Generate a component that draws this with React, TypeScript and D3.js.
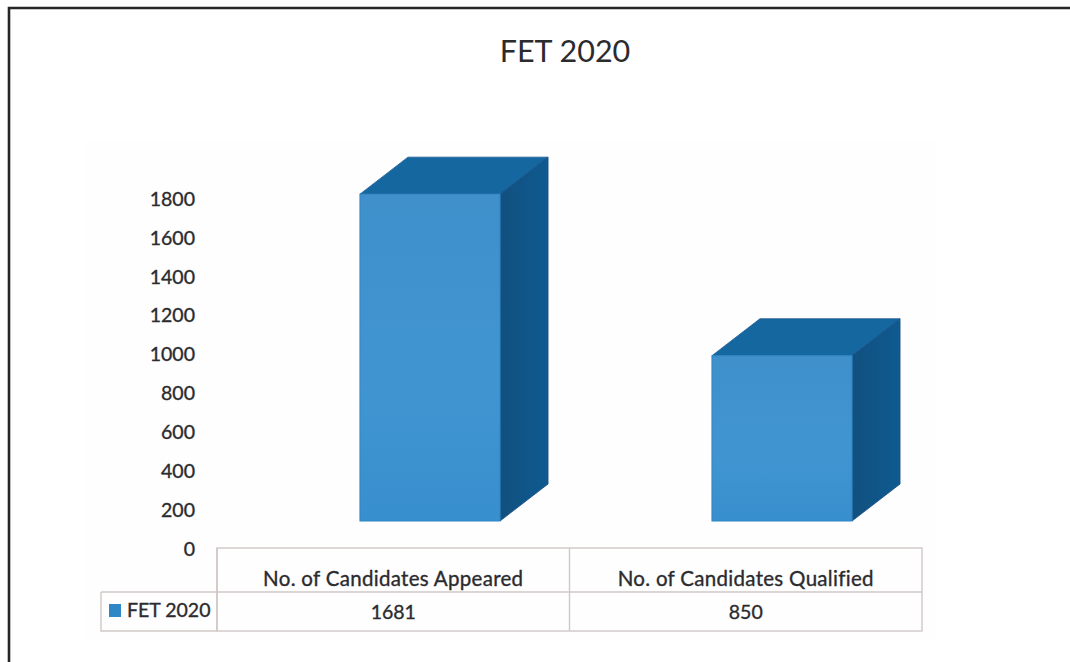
import React from "react";
import * as d3 from "d3";

const categories = ["No. of Candidates Appeared", "No. of Candidates Qualified"];
const values = [1681, 850];
const axisTicks = [0, 200, 400, 600, 800, 1000, 1200, 1400, 1600, 1800];
const seriesName = "FET 2020";
const title = "FET 2020";

const W = 1070;
const H = 662;
const font = "Lato, 'Open Sans', sans-serif";
const ink = "#2b2b2f";

const colScale = d3.scaleBand<string>().domain(categories).range([217, 922]);
const barX = d3.scaleBand<string>().domain(categories).range([254, 958]).paddingInner(0.602).paddingOuter(0.301);
const axisY = d3.scaleLinear().domain([0, 1800]).range([549, 199]);
const barY = d3.scaleLinear().domain([0, 1800]).range([521, 171]);
const DX = 48;
const DY = -37;
const tableTop = 548;
const tableMid = 592;
const tableBottom = 631;
const legendLeft = 101;
const lineColor = "#cfc8c6";
const heft = { stroke: ink, strokeWidth: 0.35 };

export default function App() {
  const poly = d3.line<[number, number]>();
  return (
    <svg width={W} height={H} viewBox={`0 0 ${W} ${H}`} style={{ position: "absolute", left: 0, top: 0, background: "#fff" }}>
      <defs>
        <linearGradient id="front" x1="0" y1="0" x2="0" y2="1">
          <stop offset="0" stopColor="#3f90cb" />
          <stop offset="0.6" stopColor="#4095d1" />
          <stop offset="1" stopColor="#388fcd" />
        </linearGradient>
        <linearGradient id="side" x1="0" y1="0" x2="1" y2="0">
          <stop offset="0" stopColor="#11507f" />
          <stop offset="1" stopColor="#0f5a90" />
        </linearGradient>
      </defs>
      <rect x={85} y={140} width={850} height={500} fill="#fefefe" />
      <path d={`M${W},8H9V${H}`} fill="none" stroke="#262628" strokeWidth={2.6} />
      <text x={565} y={62} textAnchor="middle" fontFamily={font} fontSize={30.5} fill={ink}>{title}</text>

      {axisTicks.map((t) => (
        <text key={t} x={195} y={axisY(t)} dy="0.35em" textAnchor="end" fontFamily={font} fontSize={19.5} fill={ink} {...heft}>{t}</text>
      ))}

      {categories.map((c, i) => {
        const x0 = barX(c) as number;
        const x1 = x0 + barX.bandwidth();
        const yb = barY(0);
        const yt = barY(values[i]);
        const top: [number, number][] = [[x0, yt], [x0 + DX, yt + DY], [x1 + DX, yt + DY], [x1, yt]];
        const side: [number, number][] = [[x1, yt], [x1 + DX, yt + DY], [x1 + DX, yb + DY], [x1, yb]];
        return (
          <g key={c}>
            <path d={poly(top) + "Z"} fill="#14689f" stroke="#1f5a94" strokeWidth={0.8} />
            <path d={poly(side) + "Z"} fill="url(#side)" stroke="#1b4f88" strokeWidth={0.8} />
            <rect x={x0} y={yt} width={x1 - x0} height={yb - yt} fill="url(#front)" stroke="#2f86c4" strokeWidth={1} />
          </g>
        );
      })}

      <g stroke={lineColor} strokeWidth={1.4} fill="none">
        <rect x={217} y={tableTop} width={705} height={tableBottom - tableTop} />
        <path d={`M${legendLeft},${tableMid}H922`} />
        <path d={`M${legendLeft},${tableMid}V${tableBottom}H217`} />
        <path d={`M217,${tableTop}V${tableBottom}`} />
        <path d={`M${(colScale(categories[1]) as number)},${tableTop}V${tableBottom}`} />
      </g>
      {categories.map((c, i) => {
        const cx = (colScale(c) as number) + colScale.bandwidth() / 2;
        return (
          <g key={c} fontFamily={font} fill={ink} textAnchor="middle" {...heft}>
            <text x={cx} y={586} fontSize={20.5} letterSpacing={0.3}>{c}</text>
            <text x={cx} y={619} fontSize={19.5}>{values[i]}</text>
          </g>
        );
      })}
      <rect x={109} y={604} width={12} height={13} fill="#2f88c6" />
      <text x={127} y={617} fontFamily={font} fontSize={19.5} fill={ink} {...heft}>{seriesName}</text>
    </svg>
  );
}
